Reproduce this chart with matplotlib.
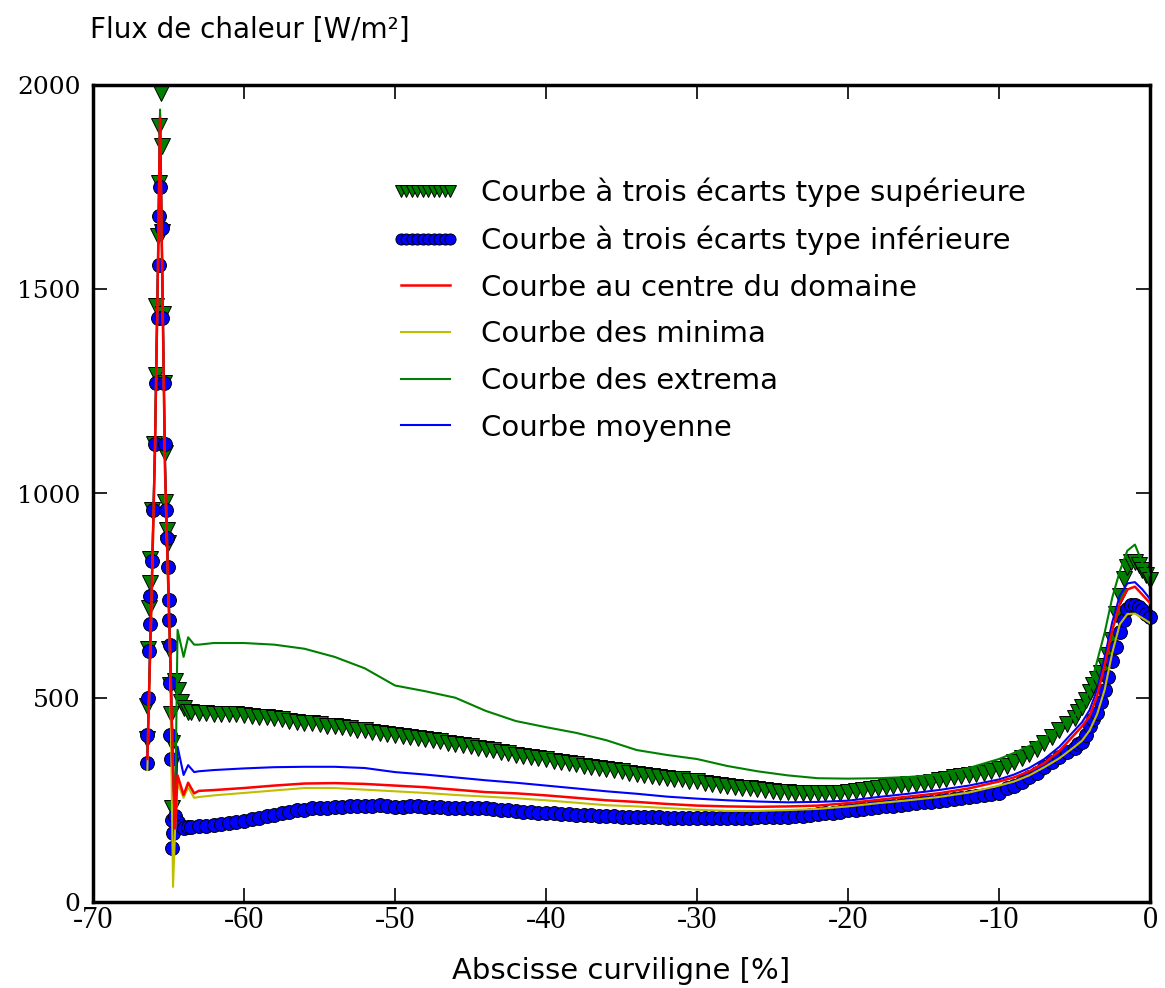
import numpy as np
import matplotlib
matplotlib.use("Agg")
import matplotlib.pyplot as plt

plt.rcParams["axes.unicode_minus"] = False

# --- spike at the start of the profile (x in %, flux in W/m2) ---
upper_spike_x = [-66.45, -66.4, -66.35, -66.3, -66.25, -66.2, -66.1, -65.95, -65.85, -65.8,
                 -65.7, -65.65, -65.6, -65.5, -65.45, -65.4, -65.35, -65.3, -65.25, -65.2,
                 -65.1, -65.05, -64.95, -64.9, -64.85, -64.8, -64.75, -64.6, -64.4, -64.2,
                 -64.0, -63.7]
upper_spike_y = [400, 480, 620, 720, 780, 840, 960, 1120, 1290, 1460,
                 1630, 1760, 1900, 1980, 1850, 1640, 1440, 1270, 1100, 980,
                 910, 880, 620, 530, 460, 390, 230, 540, 520, 490,
                 475, 465]

lower_spike_x = [-66.45, -66.4, -66.35, -66.3, -66.25, -66.2, -66.1, -66.0, -65.9, -65.8,
                 -65.7, -65.65, -65.6, -65.55, -65.45, -65.4, -65.3, -65.25, -65.15, -65.1,
                 -65.05, -65.0, -64.97, -64.93, -64.9, -64.87, -64.85, -64.8, -64.75, -64.7,
                 -64.6, -64.4, -64.2, -64.0, -63.7]
lower_spike_y = [340, 410, 500, 615, 680, 750, 835, 960, 1120, 1270,
                 1430, 1560, 1680, 1750, 1650, 1430, 1270, 1120, 960, 890,
                 820, 740, 690, 630, 536, 410, 350, 200, 132, 170,
                 210, 195, 185, 182, 183]

# --- regular sampling after the spike ---
grid_mid = np.arange(-63.5, -4.9, 0.5)    # -63.5 ... -5.0
grid_end = np.arange(-4.75, 0.01, 0.25)   # -4.75 ... 0.0

upper_mid = [466, 463, 462, 461, 460, 460, 459, 458,
             456, 454, 452, 450, 447, 444, 441, 439,
             437, 435, 432, 430, 428, 425, 422, 420,
             417, 414, 411, 409, 406, 404, 401, 399,
             396, 393, 390, 387, 384, 381, 378, 374,
             371, 368, 365, 361, 358, 355, 352, 349,
             346, 343, 340, 337, 334, 331, 329, 326,
             323, 320, 317, 314, 312, 309, 307, 304,
             302, 300, 297, 295, 292, 290, 287, 284,
             282, 280, 278, 276, 274, 272, 270, 269,
             268, 267, 266, 266, 267, 267, 268, 270,
             272, 274, 277, 280, 282, 284, 286, 288,
             290, 292, 294, 298, 302, 305, 308, 311,
             314, 317, 321, 325, 333, 342, 352, 362,
             375, 390, 405, 420, 435, 450]
upper_end = [465, 478, 495, 515, 530, 545, 560, 578, 605, 641,
             705, 750, 790, 820, 832, 832, 825, 813, 800, 788]

lower_mid = [184, 185, 187, 189, 191, 193, 196, 199,
             202, 206, 210, 214, 218, 221, 224, 226,
             229, 230, 231, 232, 233, 234, 235, 236,
             236, 237, 236, 232, 233, 234, 234, 233,
             232, 232, 231, 231, 231, 230, 230, 229,
             228, 226, 225, 223, 221, 220, 219, 218,
             217, 216, 215, 214, 213, 212, 211, 210,
             210, 209, 208, 208, 207, 207, 207, 206,
             206, 206, 206, 206, 206, 206, 206, 206,
             206, 206, 206, 207, 207, 208, 208, 209,
             210, 211, 213, 215, 217, 219, 221, 224,
             226, 228, 230, 232, 234, 236, 238, 240,
             242, 244, 246, 248, 250, 252, 254, 257,
             259, 262, 265, 268, 278, 285, 294, 305,
             317, 330, 342, 355, 367, 378]
lower_end = [386, 392, 410, 430, 447, 463, 490, 520, 550, 590,
             625, 660, 690, 718, 727, 728, 722, 715, 706, 698]

# --- plain curves, shared abscissa ---
x_lines = [-66.4, -66.1, -65.9, -65.7, -65.56, -65.4, -65.23, -64.9, -64.7, -64.57,
           -64.4, -64.0, -63.7, -63.3, -63,
           -62, -60, -58, -56, -54, -52, -50, -48, -46, -44, -42, -40, -38, -36,
           -34, -32, -30, -28, -26, -24, -22, -20, -18, -16, -14, -12, -10,
           -9, -8, -7, -6, -5, -4.5, -4, -3.5, -3, -2.5, -2, -1.5, -1, -0.5, 0]

centre = [350, 780, 1100, 1550, 1920, 1500, 1060, 620, 320, 180,
          310, 262, 292, 266, 272,
          274, 279, 285, 290, 291, 289, 285, 281, 275, 269, 266, 261, 255, 249,
          245, 240, 236, 234, 233, 234, 236, 242, 250, 258, 266, 278, 295,
          305, 320, 340, 370, 410, 430, 455, 505, 580, 665, 730, 765, 772, 752, 732]

minima = [323, 760, 1080, 1530, 1900, 1480, 1040, 600, 37, 170,
          291, 255, 281, 255, 257,
          261, 267, 273, 279, 279, 275, 271, 267, 262, 258, 254, 249, 243, 237,
          234, 230, 226, 223, 223, 225, 228, 234, 242, 249, 257, 268, 285,
          295, 310, 330, 352, 380, 395, 420, 460, 520, 610, 680, 705, 706, 695, 683]

extrema = [370, 800, 1120, 1570, 1940, 1520, 1080, 640, 340, 190,
           666, 600, 648, 630, 630,
           634, 634, 630, 620, 600, 572, 530, 516, 500, 468, 443, 428, 414, 396,
           372, 360, 350, 333, 320, 310, 303, 302, 303, 306, 312, 328, 350,
           365, 382, 402, 428, 455, 475, 520, 590, 660, 745, 810, 860, 875, 830, 800]

moyenne = [360, 790, 1110, 1560, 1930, 1510, 1070, 630, 330, 190,
           380, 311, 335, 318, 320,
           323, 327, 330, 331, 331, 328, 318, 312, 305, 298, 292, 285, 278, 271,
           265, 258, 253, 249, 246, 244, 245, 248, 257, 265, 274, 285, 300,
           312, 328, 350, 380, 420, 440, 470, 520, 600, 685, 750, 780, 783, 765, 742]

labels = ["Courbe à trois écarts type supérieure",
          "Courbe à trois écarts type inférieure",
          "Courbe au centre du domaine",
          "Courbe des minima",
          "Courbe des extrema",
          "Courbe moyenne"]

x_up = np.concatenate([upper_spike_x, grid_mid, grid_end])
y_up = np.concatenate([upper_spike_y, upper_mid, upper_end])
x_lo = np.concatenate([lower_spike_x, grid_mid, grid_end])
y_lo = np.concatenate([lower_spike_y, lower_mid, lower_end])

fig = plt.figure(figsize=(11.65, 9.88), dpi=100)
ax = fig.add_axes([93 / 1165, 86 / 988, 1057 / 1165, 817 / 988])

h_up, = ax.plot(x_up, y_up, "v", color="#007f00", mec="black", mew=0.7, ms=11, clip_on=False, zorder=2)
h_lo, = ax.plot(x_lo, y_lo, "o", color="#0000ff", mec="black", mew=0.7, ms=10, clip_on=False, zorder=2)
h_min, = ax.plot(x_lines, minima, color="#bfbf00", lw=1.5, zorder=3)
h_moy, = ax.plot(x_lines, moyenne, color="#0000ff", lw=1.5, zorder=3)
h_ext, = ax.plot(x_lines, extrema, color="#008000", lw=1.5, zorder=3)
h_cen, = ax.plot(x_lines, centre, color="#ff0000", lw=1.8, zorder=4)

ax.set_xlim(-70, 0)
ax.set_ylim(0, 2000)
ax.set_xticks(range(-70, 1, 10))
ax.set_yticks(range(0, 2001, 500))
ax.set_xticklabels([str(v) for v in range(-70, 1, 10)], family="Liberation Serif", fontsize=22)
ax.set_yticklabels([str(v) for v in range(0, 2001, 500)], family="DejaVu Serif", fontsize=18)
ax.tick_params(direction="in", length=10, width=1.2, top=True, right=True)
ax.tick_params(axis="y", pad=9)
ax.tick_params(axis="x", pad=3)
for sp in ax.spines.values():
    sp.set_linewidth(2.5)

ax.set_xlabel("Abscisse curviligne [%]", fontsize=21, labelpad=16)
fig.text(90 / 1165, 1 - 30 / 988, "Flux de chaleur [W/m²]", fontsize=20, va="center", ha="left")

ax.legend([h_up, h_lo, h_cen, h_min, h_ext, h_moy], labels,
          loc="upper left", bbox_to_anchor=(0.283, 0.887), frameon=False,
          fontsize=21, numpoints=10, markerscale=0.8, handlelength=2.3, labelspacing=0.64,
          borderpad=0, borderaxespad=0, handletextpad=0.75)

fig.savefig("out.png", dpi=100)
